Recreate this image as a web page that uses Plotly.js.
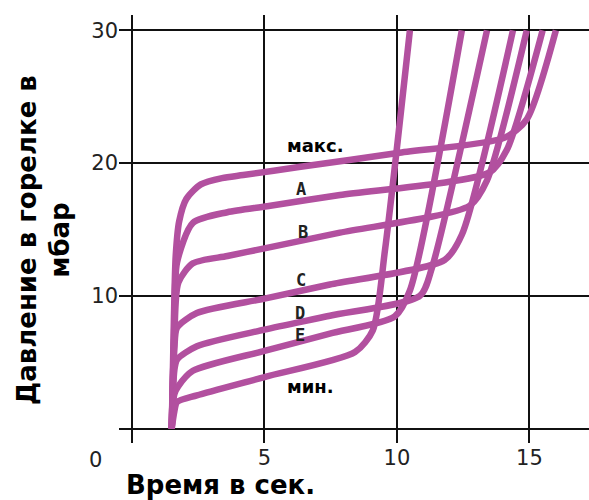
<!DOCTYPE html>
<html>
<head>
<meta charset="utf-8">
<script src="https://cdn.plot.ly/plotly-3.0.1.min.js"></script>
<style>html,body{margin:0;padding:0;background:#fff;}#chart{width:589px;height:500px;}</style>
</head>
<body>
<div id="chart"></div>
<script>
// Curve values (time in s, pressure in mbar)
const maxX = [1.5, 1.58, 1.65, 1.78, 2.05, 2.6, 3.4, 4.2, 6.3, 10.1, 14.05, 14.9, 16.0];
const maxY = [0, 8, 13, 15.6, 17.3, 18.4, 18.87, 19.1, 19.7, 20.78, 21.9, 23.3, 30];

const aX = [1.5, 1.6, 1.7, 2.3, 3.6, 5.1, 7.85, 13.5, 14.15, 15.5];
const aY = [0, 8, 12.5, 15.5, 16.3, 16.75, 17.6, 19.3, 21.0, 30];

const bX = [1.5, 1.6, 1.75, 2.3, 3.6, 5.0, 7.85, 12.75, 13.4, 14.9];
const bY = [0, 7, 11.0, 12.45, 13.0, 13.58, 14.76, 16.8, 18.7, 30];

const cX = [1.5, 1.6, 1.7, 2.45, 5.0, 7.47, 11.8, 12.45, 14.38];
const cY = [0, 6, 7.6, 8.7, 9.79, 10.85, 12.7, 14.6, 30];

const dX = [1.5, 1.6, 1.7, 2.45, 5.0, 7.47, 10.87, 11.32, 13.4];
const dY = [0, 4.4, 5.2, 6.2, 7.45, 8.5, 10.0, 12.1, 30];

const eX = [1.5, 1.6, 1.75, 2.3, 5.0, 7.47, 9.92, 10.49, 12.45];
const eY = [0, 2.6, 3.2, 4.35, 5.85, 7.15, 8.45, 10.4, 30];

const minX = [1.5, 1.6, 1.7, 2.45, 5.0, 8.42, 9.09, 9.55, 10.49];
const minY = [0, 1.3, 2.0, 2.5, 3.88, 5.76, 7.4, 13.45, 30];

const curveNames = ['макс.', 'A', 'B', 'C', 'D', 'E', 'мин.'];
const curveX = [maxX, aX, bX, cX, dX, eX, minX];
const curveY = [maxY, aY, bY, cY, dY, eY, minY];

// Label anchor values (data coordinates)
const labelX = [6.94, 6.38, 6.45, 6.38, 6.34, 6.34, 6.75];
const labelY = [21.36, 18.05, 14.8, 11.19, 8.7, 7.05, 3.2];

const xTicks = [5, 10, 15];
const xTickText = ['5', '10', '15'];
const yTicks = [10, 20, 30];
const yTickText = ['10', '20', '30'];

const lineColor = '#b2509f';

const traces = curveNames.map((n, i) => ({
  type: 'scatter', mode: 'lines', name: n,
  x: curveX[i], y: curveY[i],
  line: {color: lineColor, width: 6.5, shape: 'spline', smoothing: 0.7},
  hoverinfo: 'skip'
}));

const annotations = curveNames.map((n, i) => {
  const isWord = (i === 0 || i === curveNames.length - 1);
  return {
    x: labelX[i], y: labelY[i], xref: 'x', yref: 'y', text: n, showarrow: false,
    font: isWord ? {family: 'DejaVu Sans', size: 18, color: '#000', weight: 'bold'}
                 : {family: 'DejaVu Sans Mono', size: 17, color: '#222', weight: 'bold'},
    xanchor: 'center', yanchor: 'middle'
  };
});
annotations.push({
  x: -0.051, y: -0.04, xref: 'paper', yref: 'paper', text: '0', showarrow: false,
  font: {family: 'DejaVu Sans', size: 21, color: '#222'}, xanchor: 'center', yanchor: 'middle'
});
annotations.push({
  x: 0.217, y: -0.098, xref: 'paper', yref: 'paper', text: 'Время в сек.', showarrow: false,
  font: {family: 'DejaVu Sans', size: 26, color: '#000', weight: 'bold'}, xanchor: 'center', yanchor: 'middle'
});
annotations.push({
  x: -0.16, y: 0.474, xref: 'paper', yref: 'paper', text: 'Давление в горелке в<br>мбар', showarrow: false,
  textangle: -90, align: 'center',
  font: {family: 'DejaVu Sans', size: 26, color: '#000', weight: 'bold'}, xanchor: 'center', yanchor: 'middle'
});

const layout = {
  width: 589, height: 500,
  margin: {l: 119, r: 0, t: 15, b: 57, pad: 0},
  paper_bgcolor: '#fff', plot_bgcolor: '#fff',
  showlegend: false,
  xaxis: {
    range: [-0.49, 17.25], tickvals: xTicks, ticktext: xTickText,
    showgrid: true, gridcolor: '#111', gridwidth: 2,
    zeroline: true, zerolinecolor: '#111', zerolinewidth: 2,
    showline: false, ticks: '',
    tickfont: {family: 'DejaVu Sans', size: 21, color: '#222'}
  },
  yaxis: {
    range: [-1.09, 31.16], tickvals: yTicks, ticktext: yTickText,
    showgrid: true, gridcolor: '#111', gridwidth: 2,
    zeroline: true, zerolinecolor: '#111', zerolinewidth: 2,
    showline: false, ticks: '',
    tickfont: {family: 'DejaVu Sans', size: 21, color: '#222'}
  },
  annotations: annotations
};

Plotly.newPlot('chart', traces, layout, {displayModeBar: false, staticPlot: true});
</script>
</body>
</html>
